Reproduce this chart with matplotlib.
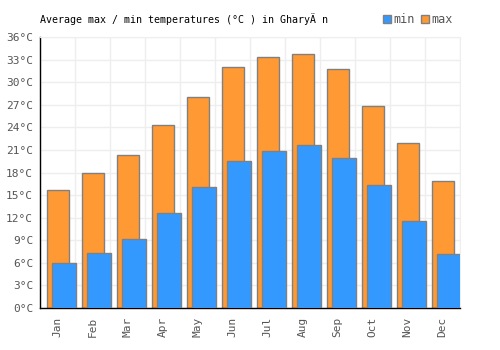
import numpy as np
import matplotlib
matplotlib.use("Agg")
import matplotlib.pyplot as plt

# Data
months = ["Jan", "Feb", "Mar", "Apr", "May", "Jun",
          "Jul", "Aug", "Sep", "Oct", "Nov", "Dec"]
t_max = [15.7, 17.9, 20.3, 24.3, 28.1, 32.0, 33.3, 33.7, 31.7, 26.9, 21.9, 16.9]
t_min = [6.0, 7.3, 9.2, 12.6, 16.1, 19.6, 20.9, 21.7, 19.9, 16.3, 11.6, 7.2]
y_ticks = list(range(0, 37, 3))

BLUE = "#3399ff"
ORANGE = "#ff9933"
EDGE = "#808080"
TXT = "#555555"

plt.rcParams["font.family"] = ["DejaVu Sans Mono"]

fig = plt.figure(figsize=(5, 3.5), dpi=100)
ax = fig.add_axes([0.08, 0.12, 0.84, 0.774])

x = np.arange(len(months))

# max bars behind, min bars in front (shifted right)
ax.bar(x + 0.014, t_max, width=0.646, color=ORANGE, edgecolor=EDGE,
       linewidth=1, zorder=2, label="max")
ax.bar(x + 0.177, t_min, width=0.686, color=BLUE, edgecolor=EDGE,
       linewidth=1, zorder=3, label="min")

ax.set_xlim(-0.5, len(months) - 0.5)
ax.set_ylim(0, 36)
ax.set_yticks(y_ticks)
ax.set_yticklabels([f"{v}°C" for v in y_ticks])
ax.set_xticks(x)
ax.set_xticklabels(months, rotation=90)

# grid on category boundaries
ax.set_xticks(np.arange(-0.5, len(months), 1), minor=True)
ax.grid(which="minor", axis="x", color="#eeeeee", linewidth=1, zorder=0)
ax.grid(which="major", axis="y", color="#eeeeee", linewidth=1, zorder=0)
ax.set_axisbelow(True)

ax.tick_params(axis="both", which="both", length=0, labelsize=8, colors=TXT)
ax.tick_params(axis="y", pad=5)
ax.tick_params(axis="x", pad=6)
for side in ["top", "right"]:
    ax.spines[side].set_color("#eeeeee")
for side in ["left", "bottom"]:
    ax.spines[side].set_color("black")
    ax.spines[side].set_linewidth(1)

fig.text(0.08, 0.945, "Average max / min temperatures (°C ) in GharyÄ n",
         fontsize=7.2, color="black", va="center", ha="left")

handles, labels = ax.get_legend_handles_labels()
fig.legend(handles[::-1], labels[::-1], loc="center right",
           bbox_to_anchor=(0.918, 0.943), ncol=2, frameon=False,
           handlelength=0.7, handleheight=0.7, handletextpad=0.2,
           columnspacing=0.5, fontsize=8.5, labelcolor=TXT, borderpad=0)

fig.savefig("out.png", dpi=100)
